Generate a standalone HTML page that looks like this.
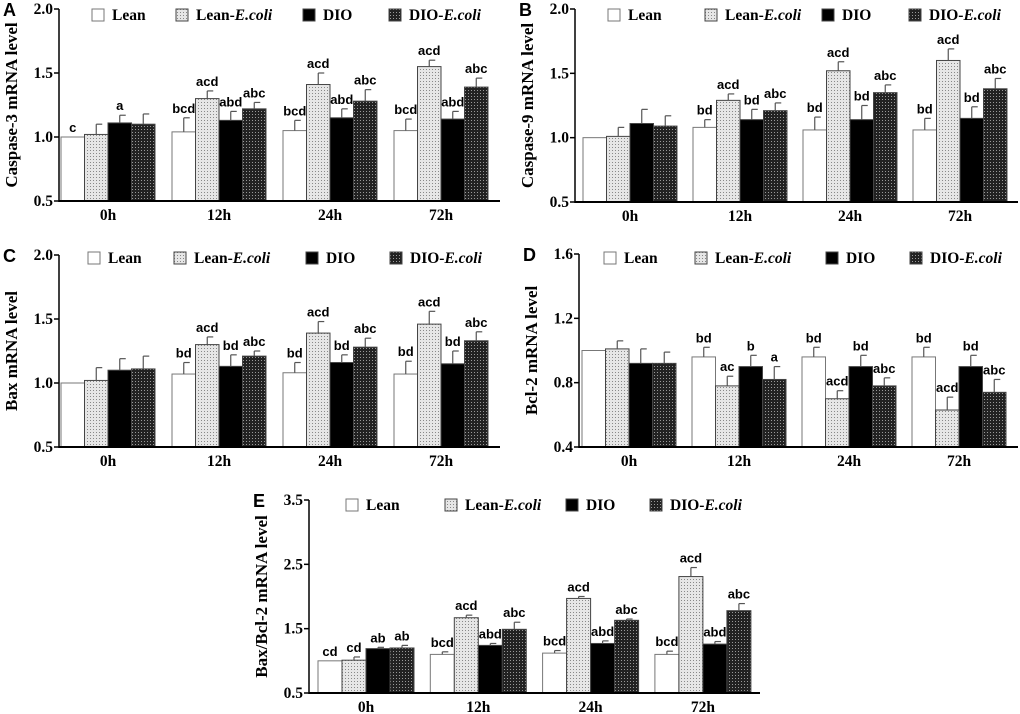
<!DOCTYPE html>
<html><head><meta charset="utf-8"><style>
body{margin:0;background:#fff;}
svg{display:block;font-family:"Liberation Serif",serif;font-weight:bold;}
.pl{font-family:"Liberation Sans",sans-serif;font-weight:bold;font-size:18px;}
</style></head><body>
<svg id="c" width="1020" height="714" viewBox="0 0 1020 714">
<defs>
<pattern id="dots" width="3" height="3" patternUnits="userSpaceOnUse"><rect width="3" height="3" fill="#e6e6e6"/><rect width="1" height="1" fill="#888"/></pattern>
<pattern id="checks" width="3" height="3" patternUnits="userSpaceOnUse"><rect width="3" height="3" fill="#222"/><rect width="1" height="1" fill="#999"/></pattern>
</defs>
</svg>
<script>
const categories=["0h","12h","24h","72h"];
const seriesNames=["Lean","Lean-E.coli","DIO","DIO-E.coli"];
// Panel A
const aLean=[1.0,1.04,1.05,1.05], aLeanErr=[0,0.11,0.08,0.09];
const aLeanE=[1.02,1.30,1.41,1.55], aLeanEErr=[0.08,0.06,0.09,0.05];
const aDIO=[1.11,1.13,1.15,1.14], aDIOErr=[0.06,0.07,0.07,0.06];
const aDIOE=[1.10,1.22,1.28,1.39], aDIOEErr=[0.08,0.05,0.09,0.07];
const aLabels=[["c","","a",""],["bcd","acd","abd","abc"],["bcd","acd","abd","abc"],["bcd","acd","abd","abc"]];
const aTicks=["0.5","1.0","1.5","2.0"];
// Panel B
const bLean=[1.0,1.08,1.06,1.06], bLeanErr=[0,0.06,0.10,0.09];
const bLeanE=[1.01,1.29,1.52,1.60], bLeanEErr=[0.07,0.05,0.07,0.09];
const bDIO=[1.11,1.14,1.14,1.15], bDIOErr=[0.11,0.08,0.11,0.09];
const bDIOE=[1.09,1.21,1.35,1.38], bDIOEErr=[0.08,0.06,0.06,0.08];
const bLabels=[["","","",""],["bd","acd","bd","abc"],["bd","acd","bd","abc"],["bd","acd","bd","abc"]];
const bTicks=["0.5","1.0","1.5","2.0"];
// Panel C
const cLean=[1.0,1.07,1.08,1.07], cLeanErr=[0,0.09,0.08,0.10];
const cLeanE=[1.02,1.30,1.39,1.46], cLeanEErr=[0.10,0.06,0.09,0.10];
const cDIO=[1.10,1.13,1.16,1.15], cDIOErr=[0.09,0.09,0.06,0.10];
const cDIOE=[1.11,1.21,1.28,1.33], cDIOEErr=[0.10,0.04,0.07,0.07];
const cLabels=[["","","",""],["bd","acd","bd","abc"],["bd","acd","bd","abc"],["bd","acd","bd","abc"]];
const cTicks=["0.5","1.0","1.5","2.0"];
// Panel D
const dLean=[1.0,0.96,0.96,0.96], dLeanErr=[0,0.06,0.06,0.06];
const dLeanE=[1.01,0.78,0.70,0.63], dLeanEErr=[0.05,0.06,0.05,0.08];
const dDIO=[0.92,0.90,0.90,0.90], dDIOErr=[0.09,0.07,0.07,0.07];
const dDIOE=[0.92,0.82,0.78,0.74], dDIOEErr=[0.07,0.08,0.05,0.08];
const dLabels=[["","","",""],["bd","ac","b","a"],["bd","acd","bd","abc"],["bd","acd","bd","abc"]];
const dTicks=["0.4","0.8","1.2","1.6"];
// Panel E
const eLean=[1.0,1.10,1.12,1.10], eLeanErr=[0,0.04,0.04,0.05];
const eLeanE=[1.01,1.67,1.97,2.31], eLeanEErr=[0.05,0.04,0.03,0.14];
const eDIO=[1.19,1.24,1.27,1.26], eDIOErr=[0.02,0.03,0.04,0.04];
const eDIOE=[1.20,1.49,1.63,1.78], eDIOEErr=[0.04,0.11,0.02,0.11];
const eLabels=[["cd","cd","ab","ab"],["bcd","acd","abd","abc"],["bcd","acd","abd","abc"],["bcd","acd","abd","abc"]];
const eTicks=["0.5","1.5","2.5","3.5"];

const NS="http://www.w3.org/2000/svg";
const svg=document.getElementById('c');
const fills=["#fff","url(#dots)","#000","url(#checks)"];
function mk(tag,attrs,parent,txt){const e=document.createElementNS(NS,tag);for(const k in attrs)e.setAttribute(k,attrs[k]);if(txt!==undefined)e.textContent=txt;parent.appendChild(e);return e;}

function panel(p){
  const g=mk('g',{},svg);
  
  
  const ymin=parseFloat(p.ticks[0]),ymax=parseFloat(p.ticks[p.ticks.length-1]);
  const yS=v=>p.y0-(v-ymin)/(ymax-ymin)*(p.y0-p.y1);
  const xS=(gi,si)=>p.gx+gi*p.gs+si*p.bw;
  const lt=mk('text',{x:p.ax-56,y:p.y1+7,class:'pl'},g,p.id);
  
  
  p.ticks.forEach(t=>{const y=yS(parseFloat(t));
    mk('line',{x1:p.ax-5,x2:p.ax,y1:y,y2:y,stroke:'#000','stroke-width':1.5},g);
    const tx=mk('text',{x:p.ax-6,y:y+5,'text-anchor':'end','font-size':15.5},g,t);
    
    
  });
  const yt=mk('text',{transform:`translate(${p.ax-42},${(p.y0+p.y1)/2}) rotate(-90)`,'text-anchor':'middle','font-size':17},g,p.title);
  
  
  const sets=[p.data[0],p.data[1],p.data[2],p.data[3]];
  categories.forEach((c,gi)=>{
    for(let si=0;si<4;si++){
      const v=sets[si][0][gi],err=sets[si][1][gi];
      const x=xS(gi,si),y=yS(v);
      const r=mk('rect',{x:x,y:y,width:p.bw,height:p.y0-y,fill:fills[si],stroke:si==0?'#777':'#444','stroke-width':1},g);
      
      
      if(err>0){const ye=yS(v+err),cx=x+p.bw/2;
        mk('line',{x1:cx,x2:cx,y1:y,y2:ye,stroke:'#555','stroke-width':1.2},g);
        mk('line',{x1:cx,x2:cx+6,y1:ye,y2:ye,stroke:'#555','stroke-width':1.2},g);}
      const lab=p.labels[gi][si];
      if(lab){const lt2=mk('text',{x:x+p.bw/2,y:yS(v+err)-5,'text-anchor':'middle','font-size':13,'font-family':'Liberation Sans, sans-serif'},g,lab);
        
        }
    }
    const xl=mk('text',{x:xS(gi,0)+2*p.bw,y:p.y0+19,'text-anchor':'middle','font-size':15.5},g,c);
    
    
  });
  mk('line',{x1:p.ax,x2:p.ax,y1:p.y1,y2:p.y0+1,stroke:'#000','stroke-width':1.5},g);
  mk('line',{x1:p.ax,x2:p.xe,y1:p.y0,y2:p.y0,stroke:'#000','stroke-width':2},g);
  seriesNames.forEach((n,si)=>{const lx=p.leg[si];
    const b=mk('rect',{x:lx,y:p.ly-6,width:12,height:12,fill:fills[si],stroke:si==0?'#777':'#444'},g);
    
    
    const t=mk('text',{x:lx+20,y:p.ly+5,'font-size':15.5},g);
    
    
    if(n.includes('-')){mk('tspan',{},t,n.split('-')[0]+'-');mk('tspan',{'font-style':'italic'},t,'E.coli');}
    else t.textContent=n;
  });
}
panel({id:'A',title:'Caspase-3 mRNA level',ax:59,xe:500,y0:201,y1:9,gx:61,gs:111,bw:23.5,ticks:aTicks,labels:aLabels,leg:[92,176,303,389],ly:15,
  data:[[aLean,aLeanErr],[aLeanE,aLeanEErr],[aDIO,aDIOErr],[aDIOE,aDIOEErr]]});
panel({id:'B',title:'Caspase-9 mRNA level',ax:575,xe:1018,y0:202,y1:9,gx:583,gs:110,bw:23.5,ticks:bTicks,labels:bLabels,leg:[608,705,822,909],ly:15,
  data:[[bLean,bLeanErr],[bLeanE,bLeanEErr],[bDIO,bDIOErr],[bDIOE,bDIOEErr]]});
panel({id:'C',title:'Bax mRNA level',ax:59,xe:500,y0:447,y1:255,gx:61,gs:111,bw:23.5,ticks:cTicks,labels:cLabels,leg:[88,174,306,390],ly:258,
  data:[[cLean,cLeanErr],[cLeanE,cLeanEErr],[cDIO,cDIOErr],[cDIOE,cDIOEErr]]});
panel({id:'D',title:'Bcl-2 mRNA level',ax:579,xe:1018,y0:447,y1:254,gx:582,gs:110,bw:23.5,ticks:dTicks,labels:dLabels,leg:[604,695,826,910],ly:258,
  data:[[dLean,dLeanErr],[dLeanE,dLeanEErr],[dDIO,dDIOErr],[dDIOE,dDIOEErr]]});
panel({id:'E',title:'Bax/Bcl-2 mRNA level',ax:309,xe:760,y0:693,y1:500,gx:318,gs:112.3,bw:24,ticks:eTicks,labels:eLabels,leg:[346,445,566,650],ly:505,
  data:[[eLean,eLeanErr],[eLeanE,eLeanEErr],[eDIO,eDIOErr],[eDIOE,eDIOEErr]]});
</script>
</body></html>
